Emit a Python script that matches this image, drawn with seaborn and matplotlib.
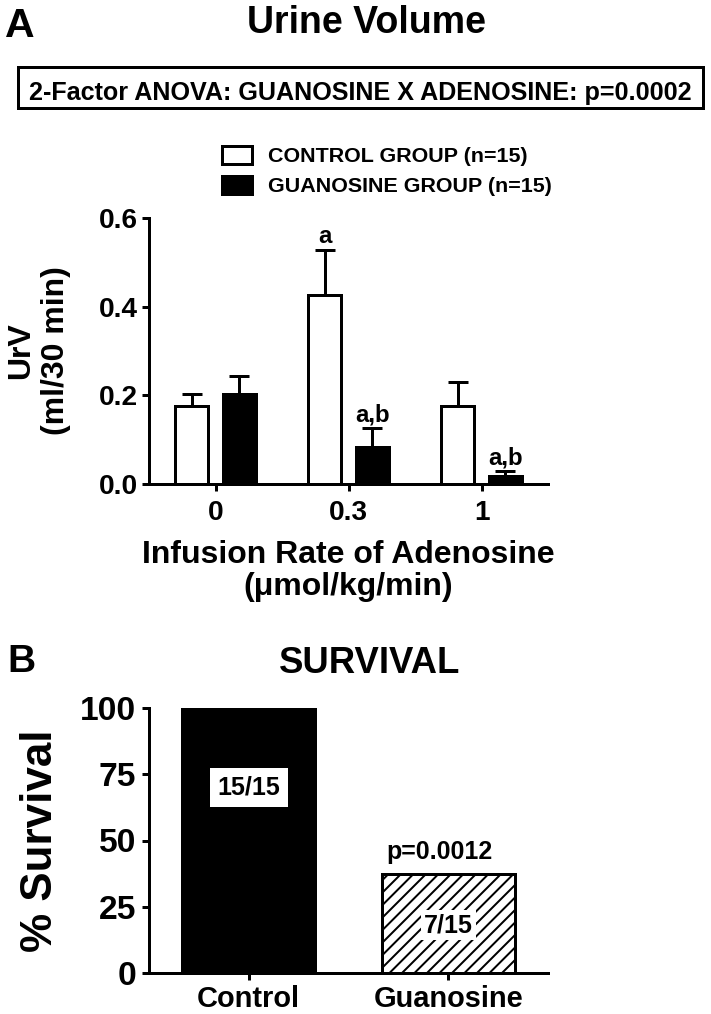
import matplotlib
matplotlib.use("Agg")
import matplotlib.pyplot as plt
from matplotlib.patches import Patch, Rectangle
import seaborn as sns
import pandas as pd

# ---------------- data ----------------
adenosine_rates = ["0", "0.3", "1"]
group_names = ["CONTROL GROUP (n=15)", "GUANOSINE GROUP (n=15)"]
control_urv = [0.176, 0.427, 0.176]
guanosine_urv = [0.203, 0.083, 0.019]
control_sem = [0.027, 0.100, 0.055]
guanosine_sem = [0.041, 0.043, 0.010]
control_sig = ["", "a", ""]
guanosine_sig = ["", "a,b", "a,b"]
urv_ticks = [0.0, 0.2, 0.4, 0.6]

survival_groups = ["Control", "Guanosine"]
survival_pct = [100, 37.5]
survival_counts = ["15/15", "7/15"]
survival_ticks = [0, 25, 50, 75, 100]
survival_p = "p=0.0012"
anova_text = "2-Factor ANOVA: GUANOSINE X ADENOSINE: p=0.0002"

# ---------------- layout helpers ----------------
DPI = 150
W, H = 711, 1014


def pt(px):
    return px * 72.0 / DPI


sns.set_theme(style="ticks")
plt.rcParams["font.family"] = ["Liberation Sans", "DejaVu Sans"]
plt.rcParams["font.weight"] = "bold"
plt.rcParams["axes.labelweight"] = "bold"
plt.rcParams["text.color"] = "black"
plt.rcParams["axes.labelcolor"] = "black"
plt.rcParams["xtick.color"] = "black"
plt.rcParams["ytick.color"] = "black"
plt.rcParams["hatch.linewidth"] = pt(2)
plt.rcParams["hatch.color"] = "black"

fig = plt.figure(figsize=(W / DPI, H / DPI), dpi=DPI)
fig.patch.set_facecolor("white")

ax1 = fig.add_axes([149 / W, 1 - 484 / H, 399 / W, 266 / H])
ax2 = fig.add_axes([149 / W, 1 - 973 / H, 399 / W, 265 / H])


def style_axes(ax, ytick_px, xtick_px, ypad_px, xpad_px):
    sns.despine(ax=ax)
    for s in ["left", "bottom"]:
        ax.spines[s].set_linewidth(pt(3))
        ax.spines[s].set_color("black")
    ax.tick_params(axis="both", direction="out", length=pt(7), width=pt(3),
                   color="black", labelcolor="black")
    ax.tick_params(axis="y", labelsize=pt(ytick_px), pad=pt(ypad_px))
    ax.tick_params(axis="x", labelsize=pt(xtick_px), pad=pt(xpad_px))
    ax.set_facecolor("none")
    ax.grid(False)


# ---------------- panel A ----------------
df_urv = pd.DataFrame({
    "rate": adenosine_rates * 2,
    "group": [group_names[0]] * 3 + [group_names[1]] * 3,
    "urv": control_urv + guanosine_urv,
})
sns.barplot(data=df_urv, x="rate", y="urv", hue="group", order=adenosine_rates,
            hue_order=group_names, palette=["white", "black"], edgecolor="black",
            linewidth=pt(3), width=0.72, gap=0.32, errorbar=None, legend=False,
            saturation=1, ax=ax1)
bar_conts = list(ax1.containers)[:2]
for cont, sems, sigs in zip(bar_conts, [control_sem, guanosine_sem],
                            [control_sig, guanosine_sig]):
    xs = [b.get_x() + b.get_width() / 2 for b in cont]
    hs = [b.get_height() for b in cont]
    ax1.errorbar(xs, hs, yerr=[[0] * len(sems), sems], fmt="none", ecolor="black",
                 elinewidth=pt(3), capsize=pt(10), capthick=pt(3), zorder=0.5)
    for x, h, s, lab in zip(xs, hs, sems, sigs):
        if lab:
            ax1.annotate(lab, (x, h + s), xytext=(0, pt(7)), textcoords="offset points",
                         ha="center", va="baseline", fontsize=pt(24), fontweight="bold",
                         color="black")

ax1.set_xlim(-0.5, 2.5)
ax1.set_ylim(0, 0.6)
ax1.set_yticks(urv_ticks)
ax1.set_yticklabels([f"{v:.1f}" for v in urv_ticks])
style_axes(ax1, 28, 28, 4, 9)
ax1.set_xlabel("Infusion Rate of Adenosine\n(μmol/kg/min)", fontsize=pt(32),
               fontweight="bold", linespacing=1.1, color="black")
ax1.xaxis.set_label_coords(0.5, -(540 - 484) / 266)
ax1.set_ylabel("UrV\n(ml/30 min)", fontsize=pt(32), fontweight="bold", linespacing=1.2,
               color="black")
ax1.yaxis.set_label_coords((71 - 149) / 399, 0.5)

handles = [Patch(facecolor=c, edgecolor="black", linewidth=pt(3)) for c in ["white", "black"]]
leg = ax1.legend(handles, group_names, loc="upper left",
                 bbox_to_anchor=(222 / W, 1 - 146 / H),
                 bbox_transform=fig.transFigure, frameon=False,
                 handlelength=30 / 21.5, handleheight=19 / 21.5, handletextpad=16 / 21.5,
                 labelspacing=0.45, borderpad=0, borderaxespad=0,
                 prop={"weight": "bold", "size": pt(21.5)})
for t in leg.get_texts():
    t.set_color("black")

fig.text(5 / W, 1 - 37 / H, "A", ha="left", va="baseline", fontsize=pt(41), fontweight="bold")
fig.text(366 / W, 1 - 33 / H, "Urine Volume", ha="center", va="baseline",
         fontsize=pt(37.5), fontweight="bold")
fig.add_artist(Rectangle((18 / W, 1 - 108 / H), 685 / W, 41 / H, transform=fig.transFigure,
                         fill=False, edgecolor="black", linewidth=pt(3)))
fig.text(360 / W, 1 - 100 / H, anova_text, ha="center", va="baseline",
         fontsize=pt(25.1), fontweight="bold")

# ---------------- panel B ----------------
df_surv = pd.DataFrame({"group": survival_groups, "pct": survival_pct})
sns.barplot(data=df_surv, x="group", y="pct", hue="group", order=survival_groups,
            hue_order=survival_groups, palette=["black", "white"], edgecolor="black",
            linewidth=pt(3), width=0.665, errorbar=None, legend=False, saturation=1, ax=ax2)
surv_bars = list(ax2.patches)
surv_bars[1].set_hatch("////")

count_label_y = [70, 18]
for bar, lab, ly in zip(surv_bars, survival_counts, count_label_y):
    xc = bar.get_x() + bar.get_width() / 2
    if bar.get_facecolor()[0] < 0.5:
        box = dict(boxstyle="square,pad=0.3", facecolor="white", edgecolor="none")
    else:
        box = dict(boxstyle="square,pad=0.12", facecolor="white", edgecolor="none")
    ax2.text(xc, ly, lab, ha="center", va="center", fontsize=pt(25),
             fontweight="bold", bbox=box, zorder=5, color="black")

gb = surv_bars[1]
ax2.annotate(survival_p, (gb.get_x() + gb.get_width() / 2, gb.get_height()),
             xytext=(pt(-9), pt(15)), textcoords="offset points", ha="center",
             va="baseline", fontsize=pt(25), fontweight="bold", color="black")

ax2.set_xlim(-0.5, 1.5)
ax2.set_ylim(0, 100)
ax2.set_yticks(survival_ticks)
ax2.set_yticklabels([str(v) for v in survival_ticks])
style_axes(ax2, 33.6, 29, 6, 5)
ax2.set_xlabel("")
ax2.set_ylabel("% Survival", fontsize=pt(44), fontweight="bold", color="black")
ax2.yaxis.set_label_coords((61 - 149) / 399, 0.5)

fig.text(7 / W, 1 - 672 / H, "B", ha="left", va="baseline", fontsize=pt(39), fontweight="bold")
fig.text(370 / W, 1 - 673 / H, "SURVIVAL", ha="center", va="baseline",
         fontsize=pt(36.5), fontweight="bold")

fig.savefig("out.png", dpi=DPI, facecolor="white")
